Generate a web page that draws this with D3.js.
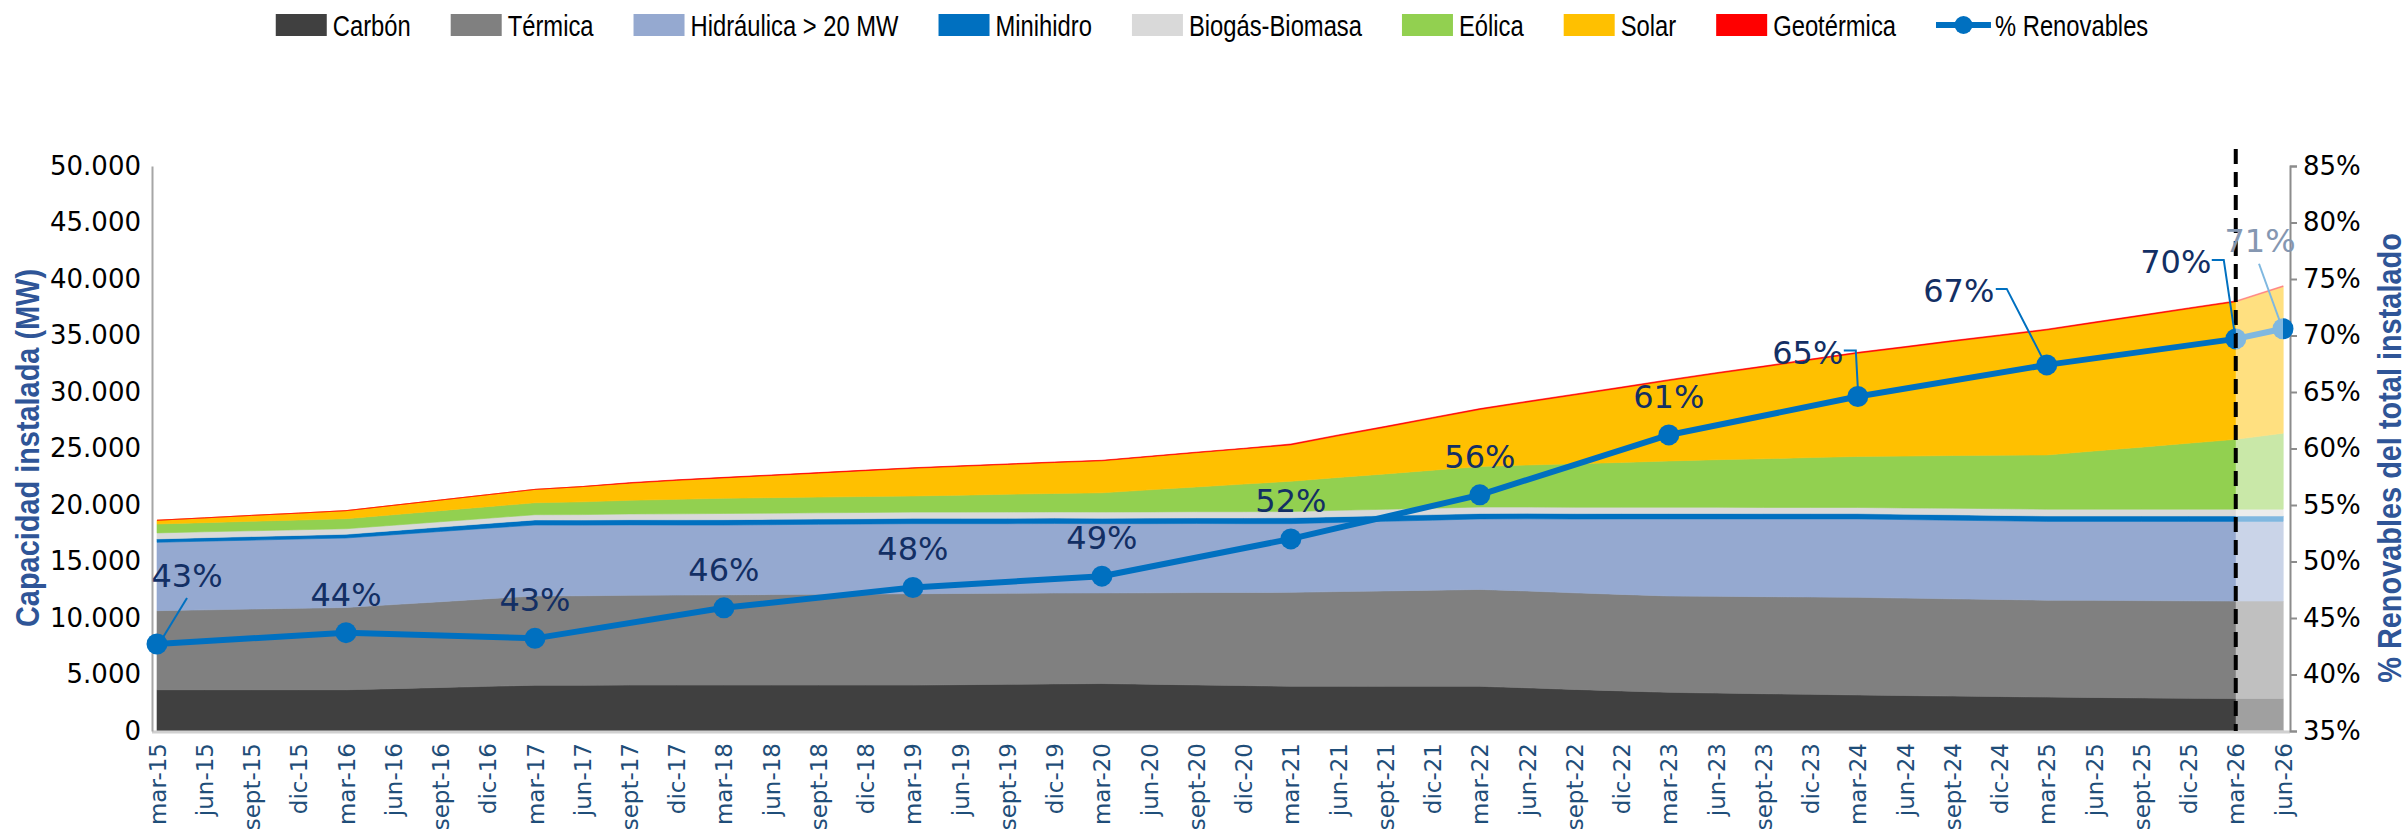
<!DOCTYPE html>
<html>
<head>
<meta charset="utf-8">
<script src="https://cdn.jsdelivr.net/npm/d3@7"></script>
<style>
  body { margin: 0; background: #fff; }
  svg { display: block; }
</style>
</head>
<body>
<script>
'use strict'

// quarterly categories, mar-15 .. jun-26
const categories = [
    'mar-15', 'jun-15', 'sept-15', 'dic-15',
    'mar-16', 'jun-16', 'sept-16', 'dic-16',
    'mar-17', 'jun-17', 'sept-17', 'dic-17',
    'mar-18', 'jun-18', 'sept-18', 'dic-18',
    'mar-19', 'jun-19', 'sept-19', 'dic-19',
    'mar-20', 'jun-20', 'sept-20', 'dic-20',
    'mar-21', 'jun-21', 'sept-21', 'dic-21',
    'mar-22', 'jun-22', 'sept-22', 'dic-22',
    'mar-23', 'jun-23', 'sept-23', 'dic-23',
    'mar-24', 'jun-24', 'sept-24', 'dic-24',
    'mar-25', 'jun-25', 'sept-25', 'dic-25',
    'mar-26', 'jun-26'
]

// installed capacity (MW) per technology
const carbon = [
    3650, 3650, 3650, 3650, 3650, 3750, 3850, 3950, 4050, 4050, 4060, 4060,
    4060, 4060, 4060, 4060, 4060, 4100, 4130, 4170, 4200, 4140, 4080, 4020,
    3960, 3960, 3950, 3950, 3950, 3820, 3680, 3550, 3420, 3360, 3300, 3250,
    3190, 3140, 3090, 3050, 3000, 2970, 2930, 2900, 2870, 2870
]
const termica = [
    7000, 7070, 7140, 7210, 7280, 7440, 7590, 7750, 7900, 7920, 7950, 7970,
    7990, 8010, 8040, 8060, 8090, 8070, 8060, 8040, 8020, 8090, 8170, 8240,
    8310, 8380, 8450, 8510, 8580, 8570, 8550, 8540, 8530, 8560, 8590, 8610,
    8640, 8620, 8610, 8590, 8580, 8590, 8610, 8620, 8630, 8630
]
const hidraulica = [
    6050, 6080, 6100, 6130, 6150, 6180, 6220, 6250, 6280, 6250, 6230, 6200,
    6180, 6190, 6190, 6200, 6200, 6180, 6160, 6150, 6130, 6120, 6110, 6090,
    6080, 6120, 6160, 6200, 6240, 6390, 6530, 6680, 6820, 6850, 6880, 6910,
    6940, 6950, 6960, 6960, 6970, 6990, 7010, 7030, 7050, 7050
]
const minihidro = [
    300, 310, 320, 320, 330, 360, 390, 420, 450, 450, 460, 460,
    470, 470, 470, 470, 470, 470, 480, 480, 480, 490, 500, 510,
    520, 510, 500, 490, 480, 480, 480, 480, 480, 480, 470, 470,
    470, 470, 480, 480, 480, 480, 480, 480, 480, 480
]
const biogas = [
    530, 520, 510, 500, 490, 480, 470, 460, 460, 480, 510, 530,
    550, 550, 550, 550, 550, 550, 550, 550, 550, 550, 550, 550,
    550, 560, 560, 570, 570, 560, 560, 550, 550, 550, 540, 540,
    540, 560, 580, 590, 600, 600, 600, 600, 600, 600
]
const eolica = [
    790, 810, 840, 860, 890, 930, 980, 1020, 1060, 1130, 1210, 1280,
    1350, 1370, 1390, 1410, 1430, 1500, 1570, 1630, 1700, 1950, 2190, 2440,
    2680, 2910, 3130, 3360, 3590, 3720, 3850, 3970, 4100, 4210, 4310, 4420,
    4520, 4590, 4660, 4730, 4800, 5150, 5490, 5840, 6180, 6720
]
const solar = [
    330, 420, 520, 610, 710, 830, 940, 1060, 1180, 1350, 1510, 1680,
    1800, 1960, 2120, 2290, 2450, 2550, 2640, 2740, 2830, 2930, 3030, 3120,
    3220, 3680, 4130, 4590, 5040, 5560, 6080, 6590, 7110, 7620, 8120, 8630,
    9130, 9610, 10090, 10570, 11050, 11330, 11610, 11890, 12170, 12970
]
const geotermica = [
    0, 0, 0, 0, 0, 0, 0, 0, 0, 0, 48, 48,
    48, 48, 48, 48, 48, 48, 48, 48, 48, 48, 48, 48,
    80, 80, 80, 80, 80, 80, 80, 80, 80, 80, 80, 80,
    80, 80, 80, 80, 80, 80, 80, 80, 80, 80
]

// share of renewables (only yearly points + jun-26)
const renovables = [
    0.427, null, null, null, 0.437, null, null, null, 0.432, null, null, null,
    0.459, null, null, null, 0.477, null, null, null, 0.487, null, null, null,
    0.520, null, null, null, 0.559, null, null, null, 0.612, null, null, null,
    0.646, null, null, null, 0.674, null, null, null, 0.697, 0.706
]

const leftTicks = [0, 5000, 10000, 15000, 20000, 25000, 30000, 35000, 40000, 45000, 50000]
const rightTicks = [0.35, 0.40, 0.45, 0.50, 0.55, 0.60, 0.65, 0.70, 0.75, 0.80, 0.85]

const series = [
    {key: 'Carbón', values: carbon, color: '#404040'},
    {key: 'Térmica', values: termica, color: '#808080'},
    {key: 'Hidráulica > 20 MW', values: hidraulica, color: '#95A9D0'},
    {key: 'Minihidro', values: minihidro, color: '#0070C0'},
    {key: 'Biogás-Biomasa', values: biogas, color: '#D9D9D9'},
    {key: 'Eólica', values: eolica, color: '#92D050'},
    {key: 'Solar', values: solar, color: '#FFC000'},
    {key: 'Geotérmica', values: geotermica, color: '#FF0000'}
]

const width = 2407
const height = 830
const plotTop = 166
const plotBottom = 731
const axisLeftX = 152
const axisRightX = 2290
const lineBlue = '#0070C0'
const navy = '#132F64'
const sans = "'Liberation Sans', Arial, sans-serif"
const squeeze = 0.82   // Liberation Sans squeezed ~ Arial Narrow

const svg = d3.select('body').append('svg')
    .attr('width', width)
    .attr('height', height)

const x = d3.scaleLinear().domain([0, categories.length - 1]).range([157, 2283])
const y = d3.scaleLinear().domain([0, 50000]).range([plotBottom, plotTop])
const yPct = d3.scaleLinear().domain([0.35, 0.85]).range([plotBottom, plotTop])

const table = categories.map((c, i) => {
    const row = {i: i, cat: c}
    series.forEach(s => { row[s.key] = s.values[i] })
    return row
})
const stacked = d3.stack().keys(series.map(s => s.key))(table)
const colorOf = {}
series.forEach(s => { colorOf[s.key] = s.color })

const area = d3.area()
    .x(d => x(d.data.i))
    .y0(d => y(d[0]))
    .y1(d => y(d[1]))

svg.append('g')
    .attr('class', 'areas')
    .selectAll('path')
    .data(stacked)
    .join('path')
    .attr('fill', d => colorOf[d.key])
    .attr('stroke', d => colorOf[d.key])
    .attr('stroke-width', 0.6)
    .attr('d', area)

// axes
const fmtMW = d3.formatLocale({decimal: ',', thousands: '.', grouping: [3], currency: ['', '']}).format(',')

svg.append('line')
    .attr('x1', axisLeftX).attr('x2', axisRightX)
    .attr('y1', plotBottom + 1).attr('y2', plotBottom + 1)
    .attr('stroke', '#D0D0D0').attr('stroke-width', 3)

svg.append('g')
    .attr('transform', `translate(${axisLeftX},0)`)
    .call(d3.axisLeft(y).tickValues(leftTicks).tickSize(0).tickPadding(11).tickFormat(fmtMW))
    .call(g => g.select('.domain').attr('stroke', '#A6A6A6').attr('stroke-width', 2))
    .call(g => g.selectAll('text')
        .attr('font-family', 'DejaVu Sans')
        .attr('font-size', 26)
        .attr('fill', '#000'))

svg.append('g')
    .attr('transform', `translate(${axisRightX},0)`)
    .call(d3.axisRight(yPct).tickValues(rightTicks).tickSize(7).tickPadding(6).tickFormat(d3.format('.0%')))
    .call(g => g.select('.domain').attr('stroke', '#8C8C8C').attr('stroke-width', 2))
    .call(g => g.selectAll('.tick line').attr('stroke', '#8C8C8C').attr('stroke-width', 2))
    .call(g => g.selectAll('text')
        .attr('font-family', 'DejaVu Sans')
        .attr('font-size', 26)
        .attr('fill', '#000'))

svg.append('g')
    .attr('transform', `translate(0,${plotBottom})`)
    .call(d3.axisBottom(x).tickValues(d3.range(categories.length)).tickSize(0).tickFormat(i => categories[i]))
    .call(g => g.select('.domain').remove())
    .call(g => g.selectAll('text')
        .attr('transform', 'rotate(-90)')
        .attr('text-anchor', 'end')
        .attr('x', -12)
        .attr('y', 0)
        .attr('dy', '0.35em')
        .attr('font-family', 'DejaVu Sans')
        .attr('font-size', 23)
        .attr('fill', '#1F4E79'))

// axis titles
svg.append('text')
    .attr('transform', `translate(27,448) rotate(-90) scale(0.85,1)`)
    .attr('text-anchor', 'middle')
    .attr('dominant-baseline', 'central')
    .attr('font-family', sans)
    .attr('font-weight', 'bold')
    .attr('font-size', 34)
    .attr('fill', '#2F5597')
    .text('Capacidad instalada  (MW)')

svg.append('text')
    .attr('transform', `translate(2389,458) rotate(-90) scale(0.85,1)`)
    .attr('text-anchor', 'middle')
    .attr('dominant-baseline', 'central')
    .attr('font-family', sans)
    .attr('font-weight', 'bold')
    .attr('font-size', 34)
    .attr('fill', '#2F5597')
    .text('% Renovables del total instalado')

// renewables line
const points = renovables
    .map((v, i) => ({i: i, v: v}))
    .filter(d => d.v !== null)

const line = d3.line()
    .x(d => x(d.i))
    .y(d => yPct(d.v))

svg.append('path')
    .datum(points)
    .attr('fill', 'none')
    .attr('stroke', lineBlue)
    .attr('stroke-width', 6)
    .attr('stroke-linejoin', 'round')
    .attr('d', line)

svg.append('g')
    .selectAll('circle')
    .data(points)
    .join('circle')
    .attr('cx', d => x(d.i))
    .attr('cy', d => yPct(d.v))
    .attr('r', 10.5)
    .attr('fill', lineBlue)

// projection zone (mar-26 .. jun-26) is washed out
svg.append('rect')
    .attr('x', x(44))
    .attr('y', 140)
    .attr('width', x(45) - x(44))
    .attr('height', plotBottom - 140)
    .attr('fill', '#fff')
    .attr('fill-opacity', 0.5)

svg.append('line')
    .attr('x1', x(44)).attr('x2', x(44))
    .attr('y1', 149).attr('y2', plotBottom)
    .attr('stroke', '#000')
    .attr('stroke-width', 4)
    .attr('stroke-dasharray', '15,8')

// data labels; some are moved away from the line with a leader
const labelShift = {
    0: {dx: 30, dy: -68, leader: [[30, -46], [5, -5]]},
    36: {dx: -50, dy: -44, leader: [[-14, -46], [-2, -46], [0, -9]]},
    40: {dx: -88, dy: -74, leader: [[-51, -76], [-40, -76], [-5, -8]]},
    44: {dx: -60, dy: -77, leader: [[-24, -79], [-12, -79], [-1, -5]]},
    45: {dx: -23, dy: -88, leader: [[-24, -65], [-3, -7]], light: true}
}

const labels = svg.append('g')
points.forEach(d => {
    const px = x(d.i)
    const py = yPct(d.v)
    const s = labelShift[d.i] || {dx: 0, dy: -38}
    if (s.leader) {
        labels.append('path')
            .attr('d', d3.line()(s.leader.map(p => [px + p[0], py + p[1]])))
            .attr('fill', 'none')
            .attr('stroke', s.light ? '#80B8E0' : lineBlue)
            .attr('stroke-width', 2)
    }
    labels.append('text')
        .attr('x', px + s.dx)
        .attr('y', py + s.dy)
        .attr('text-anchor', 'middle')
        .attr('dominant-baseline', 'central')
        .attr('font-family', 'DejaVu Sans')
        .attr('font-size', 32)
        .attr('fill', s.light ? '#8597B1' : navy)
        .text(Math.round(d.v * 100) + '%')
})

// legend
const legendItems = series.map(s => ({name: s.key, color: s.color, kind: 'area'}))
legendItems.push({name: '% Renovables', color: lineBlue, kind: 'line'})

const legend = svg.append('g')
let lx = 0
legendItems.forEach(it => {
    const g = legend.append('g').attr('transform', `translate(${lx},0)`)
    if (it.kind === 'area') {
        g.append('rect')
            .attr('x', 0).attr('y', 14)
            .attr('width', 51).attr('height', 22)
            .attr('fill', it.color)
    } else {
        g.append('line')
            .attr('x1', 0).attr('x2', 55)
            .attr('y1', 25).attr('y2', 25)
            .attr('stroke', it.color).attr('stroke-width', 6)
        g.append('circle')
            .attr('cx', 27.5).attr('cy', 25).attr('r', 9)
            .attr('fill', it.color)
    }
    const tx = it.kind === 'area' ? 57 : 59
    const t = g.append('text')
        .attr('transform', `translate(${tx},26) scale(${squeeze},1)`)
        .attr('dominant-baseline', 'central')
        .attr('font-family', sans)
        .attr('font-size', 29)
        .attr('fill', '#000')
        .text(it.name)
    lx += tx + t.node().getComputedTextLength() * squeeze + 40
})
const legendWidth = lx - 40
legend.attr('transform', `translate(${1212 - legendWidth / 2},0)`)
</script>
</body>
</html>
